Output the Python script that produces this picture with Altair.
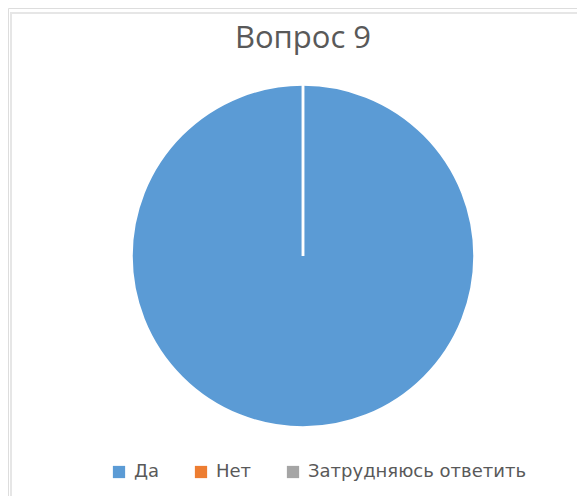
import altair as alt
import pandas as pd

categories = ["Да", "Нет", "Затрудняюсь ответить"]
values = [100, 0, 0]
colors = ["#5B9BD5", "#ED7D31", "#A5A5A5"]
title_text = "Вопрос 9"

df = pd.DataFrame({"answer": categories, "value": values, "idx": list(range(len(categories)))})

W, H = 569, 488

pie = alt.Chart(df).mark_arc(
    outerRadius=171.5, stroke="white", strokeWidth=2.5
).encode(
    theta=alt.Theta("value:Q", stack=True),
    order=alt.Order("idx:O"),
    color=alt.Color(
        "answer:N",
        sort=categories,
        scale=alt.Scale(domain=categories, range=colors),
        legend=alt.Legend(
            title=None,
            orient="none",
            direction="horizontal",
            legendX=102,
            legendY=455,
            symbolType="square",
            symbolSize=150,
            symbolStrokeWidth=0,
            labelFont="DejaVu Sans",
            labelFontSize=18,
            labelColor="#595959",
            labelOffset=6,
            labelLimit=0,
            columnPadding=32,
            padding=0,
        ),
    ),
    x=alt.value(295),
    y=alt.value(248),
)

title_df = pd.DataFrame({"t": [title_text]})
title = alt.Chart(title_df).mark_text(
    font="Open Sans", fontSize=31, color="#595959", align="center", baseline="alphabetic"
).encode(text="t:N", x=alt.value(295), y=alt.value(40))

frame_df = pd.DataFrame({"k": ["frame"]})
frame_left = alt.Chart(frame_df).mark_rule(color="#E6E6E6", strokeWidth=2).encode(
    x=alt.value(3), y=alt.value(4), y2=alt.value(H)
)
frame_top = alt.Chart(frame_df).mark_rule(color="#E6E6E6", strokeWidth=2).encode(
    x=alt.value(2), x2=alt.value(W), y=alt.value(5)
)

chart = alt.layer(frame_left, frame_top, pie, title).properties(
    width=W, height=H, autosize=alt.AutoSizeParams(type="none"), padding=0
).configure_view(stroke=None).configure(background="white")

chart.save("out.html", embed_options={"renderer": "svg", "actions": False})
